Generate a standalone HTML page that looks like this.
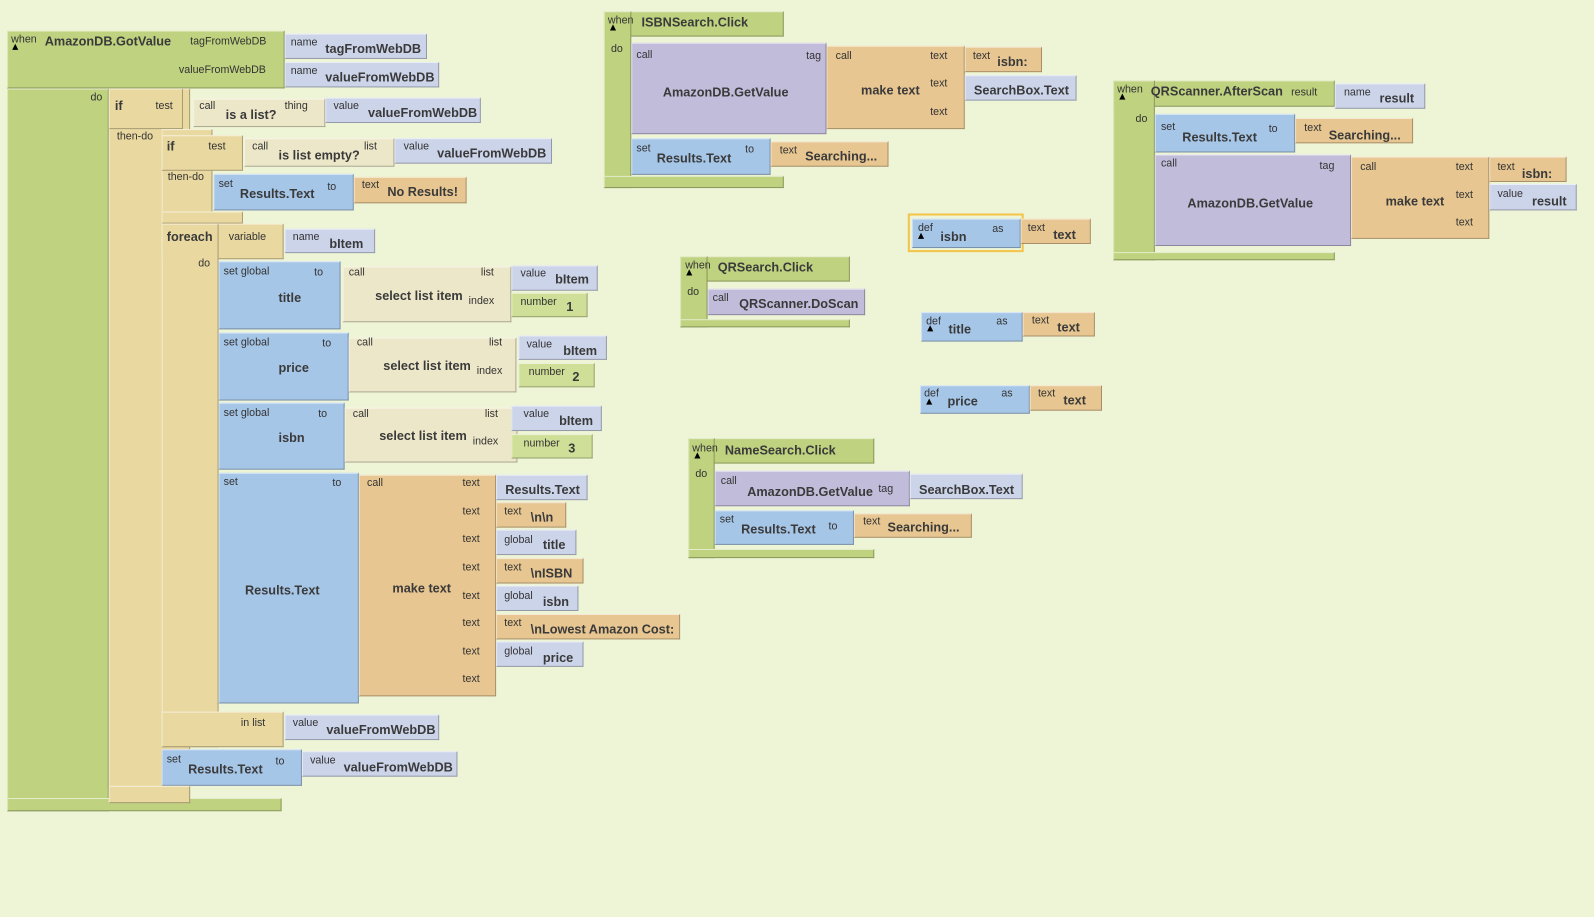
<!DOCTYPE html><html><head><meta charset="utf-8"><style>
body{margin:0;width:1594px;height:917px;background:#eef5d6;position:relative;overflow:hidden;font-family:"Liberation Sans",sans-serif;color:#333}
#w{position:absolute;left:0;top:0;width:1568px;height:902px;transform:scale(1.0166);transform-origin:0 0}
.b{position:absolute;box-sizing:border-box;border:1px solid rgba(0,0,0,.28);border-top-color:rgba(255,255,255,.6);border-left-color:rgba(255,255,255,.45)}
.t{position:absolute;font-size:10.5px;white-space:pre;line-height:11px}
.k{position:absolute;font-size:12.5px;font-weight:bold;white-space:pre;line-height:14px;color:#3a3a3a}
</style></head><body><div id="w">
<script>
var C={g:'#bfd27f',t:'#e9d8a0',c:'#ede7c9',l:'#ccd4ea',u:'#a6c6e8',o:'#e7c691',p:'#c2bcdb',n:'#cfdf97'};
function B(x,y,w,h,c){document.write('<div class="b" style="left:'+x+'px;top:'+y+'px;width:'+w+'px;height:'+h+'px;background:'+C[c]+'"></div>')}
function T(x,y,s){document.write('<div class="t" style="left:'+x+'px;top:'+(y-1)+'px">'+s+'</div>')}
function K(x,y,s){document.write('<div class="k" style="left:'+x+'px;top:'+(y-2)+'px">'+s+'</div>')}
B(7,30,273,57,'g');B(7,87,100,711,'g');B(7,785,270,13,'g');
T(11,35,'when');K(44,36,'AmazonDB.GotValue');T(187,37,'tagFromWebDB');T(176,65,'valueFromWebDB');T(89,92,'do');
B(280,33,140,25,'l');T(286,38,'name');K(320,43,'tagFromWebDB');
B(280,61,152,25,'l');T(286,66,'name');K(320,71,'valueFromWebDB');
B(107,87,80,703,'t');B(107,87,73,40,'t');K(113,99,'if');T(153,100,'test');T(115,130,'then-do');
B(190,97,130,28,'c');T(196,100,'call');K(222,108,'is a list?');T(280,100,'thing');
B(320,96,153,25,'l');T(328,100,'value');K(362,106,'valueFromWebDB');
B(159,127,50,93,'t');B(159,133,80,35,'t');B(159,208,80,12,'t');K(164,139,'if');T(205,140,'test');T(165,170,'then-do');
B(240,136,148,28,'c');T(248,140,'call');K(274,148,'is list empty?');T(358,140,'list');
B(388,136,155,25,'l');T(397,140,'value');K(430,146,'valueFromWebDB');
B(210,171,138,36,'u');T(215,177,'set');K(236,186,'Results.Text');T(322,180,'to');
B(348,174,111,26,'o');T(356,178,'text');K(381,184,'No Results!');
B(159,220,120,35,'t');B(159,220,56,515,'t');B(159,700,120,35,'t');
K(164,228,'foreach');T(225,229,'variable');T(195,255,'do');T(237,707,'in list');
B(280,225,89,24,'l');T(288,229,'name');K(324,235,'bItem');
B(215,257,120,67,'u');T(220,263,'set global');T(309,264,'to');K(274,288,'title');
B(337,262,166,55,'c');T(343,264,'call');K(369,286,'select list item');T(473,264,'list');T(461,292,'index');
B(503,261,85,25,'l');T(512,265,'value');K(546,270,'bItem');
B(503,288,75,24,'n');T(512,293,'number');K(557,297,'1');
B(215,327,128,67,'u');T(220,333,'set global');T(317,334,'to');K(274,357,'price');
B(343,332,165,54,'c');T(351,333,'call');K(377,355,'select list item');T(481,333,'list');T(469,361,'index');
B(510,330,87,24,'l');T(518,335,'value');K(554,340,'bItem');
B(510,357,75,24,'n');T(520,362,'number');K(563,366,'2');
B(215,396,124,66,'u');T(220,402,'set global');T(313,403,'to');K(274,426,'isbn');
B(339,401,170,54,'c');T(347,403,'call');K(373,424,'select list item');T(477,403,'list');T(465,430,'index');
B(503,399,89,25,'l');T(515,403,'value');K(550,409,'bItem');
B(503,427,80,24,'n');T(515,432,'number');K(559,436,'3');
B(215,465,138,227,'u');T(220,470,'set');T(327,471,'to');K(241,576,'Results.Text');
B(353,467,135,218,'o');T(361,471,'call');K(386,574,'make text');
[471,499,526,554,582,609,637,664].forEach(function(y){T(455,y,'text')});
B(488,467,90,25,'l');K(497,477,'Results.Text');
B(488,494,69,25,'o');T(496,499,'text');K(522,504,'\\n\\n');
B(488,521,79,25,'l');T(496,527,'global');K(534,531,'title');
B(488,549,86,25,'o');T(496,554,'text');K(522,559,'\\nISBN');
B(488,576,81,25,'l');T(496,582,'global');K(534,587,'isbn');
B(488,604,181,25,'o');T(496,609,'text');K(522,614,'\\nLowest Amazon Cost:');
B(488,631,86,25,'l');T(496,637,'global');K(534,642,'price');
B(280,703,152,25,'l');T(288,707,'value');K(321,713,'valueFromWebDB');
B(159,737,138,36,'u');T(164,743,'set');K(185,752,'Results.Text');T(271,745,'to');
B(297,739,153,25,'l');T(305,744,'value');K(338,750,'valueFromWebDB');
B(107,773,80,17,'t');
B(594,11,177,25,'g');B(594,11,27,174,'g');B(594,173,177,12,'g');
T(598,16,'when');K(631,17,'ISBNSearch.Click');T(601,44,'do');
B(621,42,192,90,'p');T(626,50,'call');K(652,86,'AmazonDB.GetValue');T(793,51,'tag');
B(813,45,136,82,'o');T(822,51,'call');K(847,84,'make text');T(915,51,'text');T(915,78,'text');T(915,106,'text');
B(949,46,76,25,'o');T(957,51,'text');K(981,56,'isbn:');
B(949,74,110,25,'l');K(958,84,'SearchBox.Text');
B(621,136,137,36,'u');T(626,142,'set');K(646,151,'Results.Text');T(733,143,'to');
B(758,139,116,25,'o');T(767,144,'text');K(792,149,'Searching...');
B(669,252,167,25,'g');B(669,252,27,70,'g');B(669,314,167,8,'g');
T(674,257,'when');K(706,258,'QRSearch.Click');T(676,283,'do');
B(696,284,155,26,'p');T(701,289,'call');K(727,294,'QRScanner.DoScan');
B(677,431,183,25,'g');B(677,431,26,118,'g');B(677,540,183,9,'g');
T(681,437,'when');K(713,438,'NameSearch.Click');T(684,462,'do');
B(703,463,192,35,'p');T(709,469,'call');K(735,479,'AmazonDB.GetValue');T(864,477,'tag');
B(895,466,111,25,'l');K(904,477,'SearchBox.Text');
B(703,502,137,34,'u');T(708,507,'set');K(729,516,'Results.Text');T(815,514,'to');
B(840,505,116,24,'o');T(849,509,'text');K(873,514,'Searching...');
document.write('<div style="position:absolute;left:893px;top:210px;width:114px;height:38px;border:2px solid #f4c34a;box-sizing:border-box"></div>');
B(897,215,107,29,'u');T(903,220,'def');K(925,228,'isbn');T(976,221,'as');
B(1004,215,69,25,'o');T(1011,220,'text');K(1036,226,'text');
B(906,307,100,29,'u');T(911,312,'def');K(933,319,'title');T(980,312,'as');
B(1006,307,71,24,'o');T(1015,311,'text');K(1040,317,'text');
B(905,379,108,28,'u');T(909,383,'def');K(932,390,'price');T(985,383,'as');
B(1013,379,71,25,'o');T(1021,383,'text');K(1046,389,'text');
B(1095,79,218,26,'g');B(1095,79,41,177,'g');B(1095,248,218,8,'g');
T(1099,84,'when');K(1132,85,'QRScanner.AfterScan');T(1270,87,'result');T(1117,113,'do');
B(1313,82,89,25,'l');T(1322,87,'name');K(1357,92,'result');
B(1136,112,138,38,'u');T(1142,121,'set');K(1163,130,'Results.Text');T(1248,123,'to');
B(1274,116,116,25,'o');T(1283,122,'text');K(1307,128,'Searching...');
B(1136,152,193,90,'p');T(1142,157,'call');K(1168,195,'AmazonDB.GetValue');T(1298,159,'tag');
B(1329,154,136,81,'o');T(1338,160,'call');K(1363,193,'make text');T(1432,160,'text');T(1432,188,'text');T(1432,215,'text');
B(1465,154,76,25,'o');T(1473,160,'text');K(1497,166,'isbn:');
B(1465,181,86,26,'l');T(1473,187,'value');K(1507,193,'result');
[[12,43],[600,24],[675,265],[683,445],[1101,92],[903,229],[912,320],[911,392]].forEach(function(p){document.write('<div style="position:absolute;left:'+p[0]+'px;top:'+p[1]+'px;width:0;height:0;border-left:3px solid transparent;border-right:3px solid transparent;border-bottom:6px solid #000"></div>')});
</script>
</div></body></html>
